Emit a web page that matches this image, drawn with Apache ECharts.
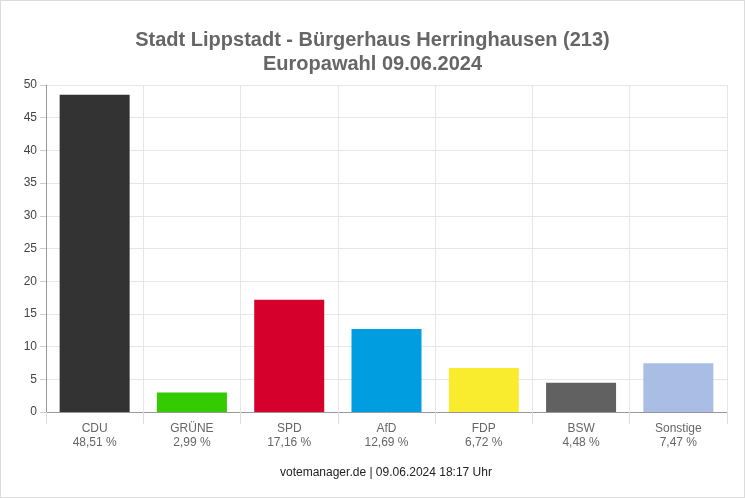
<!DOCTYPE html>
<html>
<head>
<meta charset="utf-8">
<script src="https://cdn.jsdelivr.net/npm/echarts@6/dist/echarts.min.js"></script>
<style>
  html, body { margin: 0; padding: 0; background: #fff; }
  #chart { width: 743px; height: 496px; border: 1px solid #dcdcdc; }
</style>
</head>
<body>
<div id="chart"></div>
<script>
  // Parteien und Stimmenanteile (%)
  const parties = ['CDU', 'GRÜNE', 'SPD', 'AfD', 'FDP', 'BSW', 'Sonstige'];
  const shares = [48.51, 2.99, 17.16, 12.69, 6.72, 4.48, 7.47];
  const colors = ['#333333', '#33cc00', '#d5002b', '#009ee0', '#f9ec2e', '#616161', '#a9bde5'];
  const yTicks = [0, 5, 10, 15, 20, 25, 30, 35, 40, 45, 50];

  const myChart = echarts.init(document.getElementById('chart'));
  const option = {
    animation: false,
    textStyle: { fontFamily: 'Arial, "Liberation Sans", sans-serif' },
    title: {
      text: 'Stadt Lippstadt - Bürgerhaus Herringhausen (213)\nEuropawahl 09.06.2024',
      left: 'center',
      top: 22,
      textStyle: { color: '#666', fontSize: 20, fontWeight: 'bold', lineHeight: 24 }
    },
    graphic: [{
      type: 'text',
      left: 279,
      top: 466,
      style: { text: 'votemanager.de | 09.06.2024 18:17 Uhr', fill: '#222', fontSize: 12, fontFamily: 'Arial, "Liberation Sans", sans-serif' }
    }],
    grid: { left: 45, right: 17, top: 84, bottom: 85, containLabel: false },
    xAxis: {
      type: 'category',
      data: parties,
      axisLine: { lineStyle: { color: '#999' } },
      axisTick: { show: true, length: 12, lineStyle: { color: '#ddd' } },
      splitLine: { show: true, lineStyle: { color: '#e6e6e6' } },
      axisLabel: {
        color: '#666',
        fontSize: 12,
        lineHeight: 14,
        margin: 10,
        formatter: function (v, i) {
          return v + '\n' + shares[i].toFixed(2).replace('.', ',') + ' %';
        }
      }
    },
    yAxis: {
      type: 'value',
      min: yTicks[0],
      max: yTicks[yTicks.length - 1],
      interval: 5,
      axisLine: { show: true, lineStyle: { color: '#999' } },
      axisTick: { show: true, length: 6, lineStyle: { color: '#ccc' } },
      splitLine: { lineStyle: { color: '#e6e6e6' } },
      axisLabel: { color: '#444', fontSize: 12, margin: 9 }
    },
    series: [{
      type: 'bar',
      barWidth: 70,
      data: shares.map(function (v, i) {
        return { value: v, itemStyle: { color: colors[i] } };
      })
    }]
  };
  myChart.setOption(option);
</script>
</body>
</html>
